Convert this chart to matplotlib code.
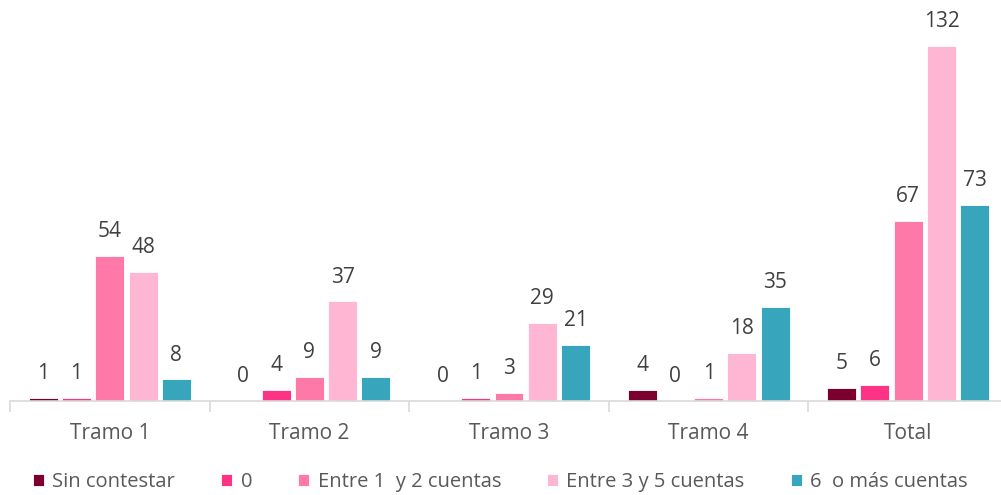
import numpy as np
import matplotlib
matplotlib.use("Agg")
import matplotlib.pyplot as plt

# categories and series
categories = ["Tramo 1", "Tramo 2", "Tramo 3", "Tramo 4", "Total"]
series_names = ["Sin contestar", "0", "Entre 1  y 2 cuentas", "Entre 3 y 5 cuentas", "6  o más cuentas"]
sin_contestar = [1, 0, 0, 4, 5]
cero = [1, 4, 1, 0, 6]
entre_1_2 = [54, 9, 3, 1, 67]
entre_3_5 = [48, 37, 29, 18, 132]
seis_mas = [8, 9, 21, 35, 73]
colors = ["#7B0030", "#FF3385", "#FF79A8", "#FFB6D3", "#37A6BD"]

plt.rcParams['font.family'] = ['Open Sans', 'DejaVu Sans']

fig = plt.figure(figsize=(10.01, 4.95), dpi=100)
ax = fig.add_axes([10 / 1001, 94 / 495, 998 / 1001, 390 / 495])

x = np.arange(len(categories))
slot = 1 / 6
width = 0.145
all_series = [sin_contestar, cero, entre_1_2, entre_3_5, seis_mas]
for i, (vals, name, c) in enumerate(zip(all_series, series_names, colors)):
    pos = x + (i - 2) * slot
    bars = ax.bar(pos, vals, width, color=c, label=name, edgecolor="white", linewidth=0.6)
    for b, v in zip(bars, vals):
        ax.annotate(str(v), (b.get_x() + b.get_width() / 2, v), xytext=(0, 10),
                    textcoords="offset points", ha="center", va="bottom",
                    fontsize=15, color="#404040")

ax.set_xlim(-0.5, len(categories) - 0.5)
ax.set_ylim(0, 145)
ax.set_yticks([])
for s in ["top", "right", "left"]:
    ax.spines[s].set_visible(False)
ax.spines["bottom"].set_color("#D9D9D9")
ax.spines["bottom"].set_linewidth(1.2)

ax.set_xticks(x)
ax.set_xticklabels(categories, fontsize=15, color="#595959")
ax.tick_params(axis="x", which="major", length=0, pad=16)
ax.set_xticks(np.arange(-0.5, len(categories)), minor=True)
ax.tick_params(axis="x", which="minor", length=8, color="#D9D9D9", width=1.2)

fig.legend(loc="center", bbox_to_anchor=(0.5, 1 - 482 / 495), ncol=5, frameon=False,
           fontsize=14.5, handlelength=0.55, handleheight=0.55, handletextpad=0.4,
           columnspacing=2.3, labelcolor="#595959")

fig.savefig("out.png", dpi=100)
